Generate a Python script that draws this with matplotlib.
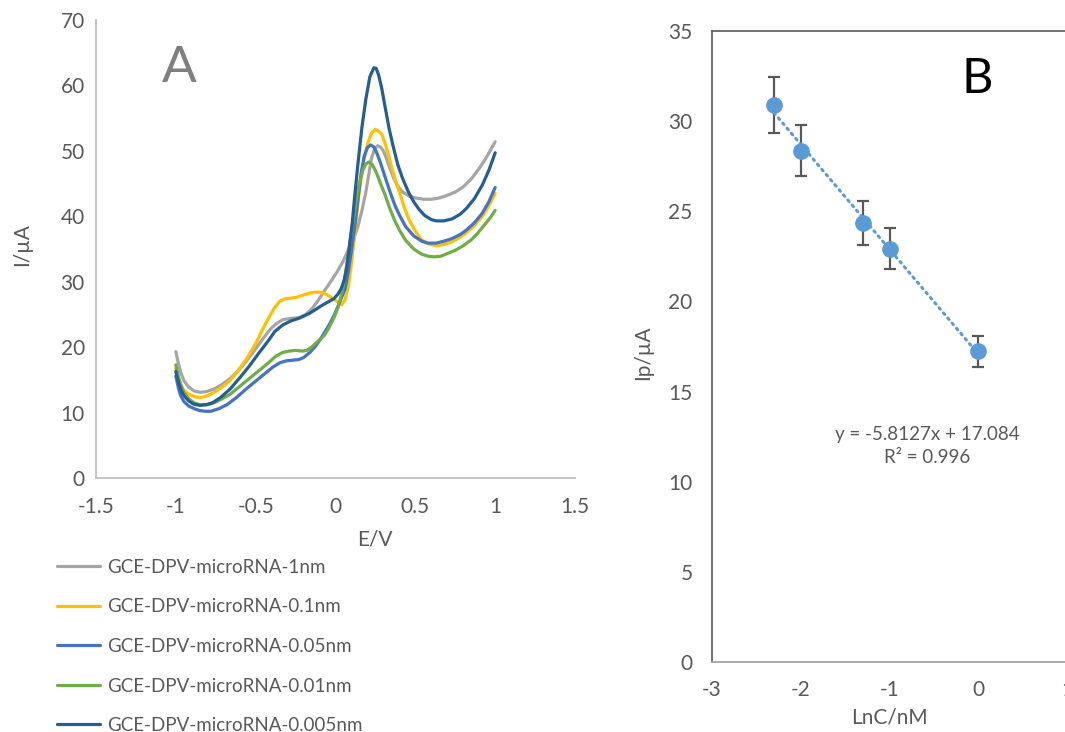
import matplotlib
matplotlib.use("Agg")
import matplotlib.pyplot as plt

plt.rcParams["font.family"] = ["Lato", "DejaVu Sans"]
plt.rcParams["axes.unicode_minus"] = False

# ---- panel A: DPV curves (E in V, I in uA) ----
E_1nm = [-1.0, -0.985, -0.97, -0.95, -0.92, -0.885, -0.85, -0.81, -0.76, -0.71, -0.66, -0.61,
         -0.56, -0.51, -0.46, -0.41, -0.37, -0.33, -0.28, -0.23, -0.19, -0.15, -0.11, -0.07,
         -0.03, 0.01, 0.045, 0.08, 0.11, 0.14, 0.165, 0.19, 0.21, 0.225, 0.245, 0.265, 0.285,
         0.30, 0.32, 0.34, 0.365, 0.39, 0.42, 0.46, 0.5, 0.55, 0.6, 0.65, 0.7, 0.75, 0.8,
         0.85, 0.9, 0.95, 1.0]
I_1nm = [19.3, 17.6, 16.2, 14.9, 13.9, 13.3, 13.1, 13.2, 13.6, 14.3, 15.2, 16.4,
         17.8, 19.4, 21.1, 22.7, 23.6, 24.2, 24.4, 24.5, 24.9, 25.8, 27.1, 28.6,
         30.0, 31.5, 33.0, 34.8, 36.3, 38.4, 40.8, 43.7, 46.6, 48.8, 50.3, 50.8, 50.5,
         50.0, 48.8, 47.4, 45.8, 44.6, 43.7, 43.1, 42.8, 42.6, 42.6, 42.8, 43.2, 43.7, 44.5,
         45.7, 47.3, 49.2, 51.4]

E_01nm = [-1.0, -0.985, -0.97, -0.95, -0.92, -0.88, -0.84, -0.8, -0.76, -0.71, -0.66, -0.61,
          -0.56, -0.52, -0.49, -0.455, -0.42, -0.385, -0.35, -0.315, -0.28, -0.245, -0.21,
          -0.17, -0.13, -0.1, -0.07, -0.04, -0.01, 0.01, 0.025, 0.04, 0.06, 0.08, 0.1, 0.125,
          0.15, 0.175, 0.2, 0.225, 0.25, 0.27, 0.29, 0.31, 0.33, 0.35, 0.37, 0.4, 0.43, 0.46,
          0.5, 0.54, 0.58, 0.63, 0.68, 0.73, 0.78, 0.82, 0.87, 0.92, 0.96, 1.0]
I_01nm = [16.8, 15.4, 14.3, 13.4, 12.8, 12.4, 12.3, 12.6, 13.1, 13.9, 14.9, 16.4,
          18.1, 19.7, 21.0, 22.8, 24.4, 25.9, 27.0, 27.4, 27.5, 27.6, 27.9,
          28.2, 28.4, 28.4, 28.2, 27.8, 27.3, 27.0, 26.8, 26.5, 27.3, 29.2, 32.8, 38.4,
          44.0, 48.3, 51.0, 52.7, 53.3, 53.0, 52.5, 51.2, 49.5, 47.6, 45.9, 43.7, 41.4, 39.5,
          37.7, 36.4, 35.8, 35.5, 35.7, 36.1, 36.8, 37.5, 38.6, 40.0, 41.6, 43.5]

E_005nm = [-1.0, -0.985, -0.97, -0.95, -0.92, -0.885, -0.85, -0.815, -0.78, -0.73, -0.68, -0.62,
           -0.56, -0.5, -0.44, -0.395, -0.35, -0.31, -0.27, -0.23, -0.2, -0.16, -0.13, -0.1,
           -0.07, -0.04, -0.01, 0.015, 0.04, 0.06, 0.08, 0.1, 0.12, 0.14, 0.16, 0.18, 0.2,
           0.22, 0.24, 0.26, 0.28, 0.3, 0.32, 0.345, 0.37, 0.4, 0.44, 0.49, 0.54, 0.58, 0.63,
           0.68, 0.73, 0.78, 0.82, 0.87, 0.92, 0.96, 1.0]
I_005nm = [15.6, 13.9, 12.6, 11.7, 11.0, 10.6, 10.3, 10.2, 10.2, 10.6, 11.2, 12.3,
           13.6, 14.8, 16.0, 16.9, 17.6, 17.9, 18.0, 18.1, 18.4, 19.2, 20.0, 21.0,
           22.2, 23.4, 24.8, 26.2, 27.7, 28.9, 31.5, 34.8, 38.3, 42.5, 46.5, 49.2, 50.5,
           50.9, 50.6, 49.6, 48.3, 46.8, 45.3, 43.5, 41.8, 40.2, 38.4, 37.0, 36.2, 35.9, 35.9,
           36.2, 36.6, 37.2, 37.9, 39.0, 40.5, 42.2, 44.4]

E_001nm = [-1.0, -0.985, -0.97, -0.95, -0.92, -0.885, -0.85, -0.8, -0.76, -0.71, -0.66, -0.6,
           -0.54, -0.48, -0.42, -0.375, -0.33, -0.29, -0.25, -0.21, -0.18, -0.15, -0.11, -0.07,
           -0.04, -0.01, 0.015, 0.035, 0.055, 0.075, 0.095, 0.12, 0.145, 0.17, 0.19, 0.21, 0.23,
           0.25, 0.27, 0.29, 0.31, 0.34, 0.37, 0.4, 0.44, 0.49, 0.54, 0.58, 0.62, 0.66, 0.7,
           0.75, 0.8, 0.85, 0.89, 0.93, 0.97, 1.0]
I_001nm = [17.3, 15.6, 14.3, 13.1, 12.1, 11.5, 11.2, 11.2, 11.5, 12.1, 12.8, 14.0,
           15.2, 16.4, 17.6, 18.6, 19.2, 19.4, 19.5, 19.4, 19.5, 20.0, 20.9, 21.8,
           23.0, 24.5, 26.0, 27.8, 30.2, 33.3, 36.8, 40.8, 44.5, 47.0, 48.0, 48.3, 47.9,
           47.0, 45.8, 44.5, 43.3, 41.2, 39.4, 37.9, 36.3, 35.0, 34.2, 33.9, 33.8, 33.9, 34.3,
           34.8, 35.5, 36.4, 37.4, 38.6, 39.8, 40.9]

E_0005nm = [-1.0, -0.985, -0.97, -0.95, -0.92, -0.89, -0.85, -0.81, -0.77, -0.72, -0.66, -0.6,
            -0.54, -0.48, -0.42, -0.38, -0.33, -0.28, -0.23, -0.16, -0.09, -0.04, -0.01, 0.015,
            0.035, 0.055, 0.07, 0.085, 0.105, 0.12, 0.14, 0.165, 0.19, 0.215, 0.24, 0.255, 0.27,
            0.29, 0.31, 0.335, 0.36, 0.39, 0.42, 0.455, 0.49, 0.525, 0.56, 0.6, 0.63, 0.68, 0.73,
            0.78, 0.82, 0.87, 0.92, 0.96, 1.0]
I_0005nm = [16.3, 14.8, 13.6, 12.6, 11.8, 11.3, 11.1, 11.2, 11.5, 12.3, 13.6, 15.3,
            17.1, 19.1, 21.0, 22.4, 23.4, 24.0, 24.4, 25.2, 26.3, 27.0, 27.4, 28.1,
            28.9, 30.3, 32.1, 35.0, 39.0, 43.0, 47.9, 53.5, 57.9, 61.3, 62.7, 62.6, 61.6,
            59.5, 56.8, 53.5, 50.8, 47.9, 45.8, 43.8, 42.2, 41.0, 40.1, 39.5, 39.3, 39.3, 39.6,
            40.3, 41.2, 42.7, 44.8, 47.0, 49.7]

labels = ["GCE-DPV-microRNA-1nm", "GCE-DPV-microRNA-0.1nm", "GCE-DPV-microRNA-0.05nm",
          "GCE-DPV-microRNA-0.01nm", "GCE-DPV-microRNA-0.005nm"]
colors = ["#A5A5A5", "#FFC000", "#4472C4", "#70AD47", "#255E91"]
curves = [(E_1nm, I_1nm), (E_01nm, I_01nm), (E_005nm, I_005nm),
          (E_001nm, I_001nm), (E_0005nm, I_0005nm)]

# ---- panel B: calibration (log C vs peak current) ----
logC = [-2.301, -2.0, -1.301, -1.0, 0.0]
Ip = [30.9, 28.37, 24.35, 22.93, 17.23]
Ip_err = [1.55, 1.4, 1.2, 1.15, 0.86]
SLOPE = -5.8127
INTERCEPT = 17.084

TXT = "#595959"
W, H = 1065, 732
fig = plt.figure(figsize=(W / 100, H / 100), dpi=100)

# panel A
axA = fig.add_axes([96 / W, 1 - 478 / H, 479 / W, 458 / H])
for (e, i), c, lab in zip(curves, colors, labels):
    axA.plot(e, i, color=c, lw=2.3, label=lab, solid_capstyle="round", solid_joinstyle="round")
axA.set_xlim(-1.5, 1.5)
axA.set_ylim(0, 70)
axA.set_xticks([-1.5, -1, -0.5, 0, 0.5, 1, 1.5])
axA.set_xticklabels(["-1.5", "-1", "-0.5", "0", "0.5", "1", "1.5"])
axA.set_yticks(range(0, 71, 10))
for s in ["top", "right"]:
    axA.spines[s].set_visible(False)
for s in ["left", "bottom"]:
    axA.spines[s].set_color("#BFBFBF")
    axA.spines[s].set_linewidth(1.3)
axA.tick_params(length=0, labelsize=15, labelcolor=TXT)
axA.tick_params(axis="x", pad=14)
axA.tick_params(axis="y", pad=8)
axA.text((375 - 96) / 479, -(540 - 478) / 458, "E/V", transform=axA.transAxes,
         ha="center", va="center", fontsize=15, color=TXT)
axA.text(-(96 - 22) / 479, (478 - 245) / 458, "I/µA", transform=axA.transAxes,
         ha="center", va="center", rotation=90, fontsize=15, color=TXT)
axA.text((179 - 96) / 479, (478 - 82) / 458, "A", transform=axA.transAxes,
         ha="center", va="baseline", fontsize=37, color="#7F7F7F")

fig.legend(*axA.get_legend_handles_labels(), loc="upper left",
           bbox_to_anchor=(57 / W, 1 - 559 / H), frameon=False, borderpad=0,
           borderaxespad=0, fontsize=13.5, labelcolor=TXT, handlelength=2.3,
           handletextpad=0.4, labelspacing=1.2)

# panel B
axB = fig.add_axes([712 / W, 1 - 662 / H, 355 / W, 631 / H])
axB.errorbar(logC, Ip, yerr=Ip_err, fmt="none", ecolor="#595959", elinewidth=1.6,
             capsize=4.5, capthick=1.6, zorder=2)
x_fit = [min(logC), max(logC)]
axB.plot(x_fit, [SLOPE * x + INTERCEPT for x in x_fit], color="#5B9BD5", lw=2.2,
         linestyle=(0, (0.6, 1.6)), dash_capstyle="round", zorder=3)
axB.plot(logC, Ip, "o", color="#5B9BD5", markersize=11, zorder=4)
axB.set_xlim(-3, 1)
axB.set_ylim(0, 35)
axB.set_xticks([-3, -2, -1, 0, 1])
axB.set_yticks(range(0, 36, 5))
for s in ["left", "top", "right"]:
    axB.spines[s].set_color("#595959")
    axB.spines[s].set_linewidth(1.2)
axB.spines["bottom"].set_color("#A6A6A6")
axB.spines["bottom"].set_linewidth(1.3)
axB.tick_params(length=0, labelsize=15, labelcolor=TXT)
axB.tick_params(axis="x", pad=13)
axB.tick_params(axis="y", pad=14)
axB.text(0.5, -(718 - 662) / 631, "LnC/nM", transform=axB.transAxes,
         ha="center", va="center", fontsize=15, color=TXT)
axB.text(-(712 - 643) / 355, (662 - 353) / 631, "Ip/µA", transform=axB.transAxes,
         ha="center", va="center", rotation=90, fontsize=15, color=TXT)
axB.text((977 - 712) / 355, (662 - 93) / 631, "B", transform=axB.transAxes,
         ha="center", va="baseline", fontsize=35, color="black")
axB.text((927 - 712) / 355, (662 - 446) / 631, "y = -5.8127x + 17.084\nR² = 0.996",
         transform=axB.transAxes, ha="center", va="center", fontsize=13.5,
         color=TXT, linespacing=1.45)

fig.savefig("out.png", dpi=100)
